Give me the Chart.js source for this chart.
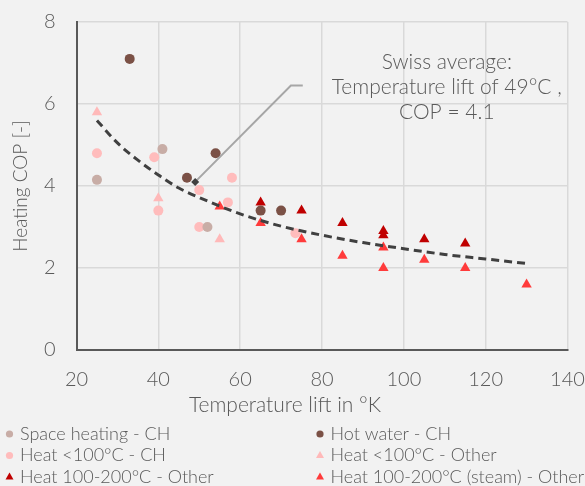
<!DOCTYPE html>
<html>
<head>
<meta charset="utf-8">
<title>Heating COP</title>
<script src="https://cdn.jsdelivr.net/npm/chart.js@4.4.1/dist/chart.umd.min.js"></script>
<style>
    body { margin: 0; background: #f2f2f2; }
    canvas { display: block; }
</style>
</head>
<body>
<canvas id="copChart" width="585" height="486"></canvas>
<script>
// Datos
const xTicks = [20, 40, 60, 80, 100, 120, 140];
const yTicks = [0, 2, 4, 6, 8];

const spaceHeatingX = [25, 41, 52];
const spaceHeatingY = [4.15, 4.9, 3.0];

const hotWaterX = [33, 47, 54, 65, 70];
const hotWaterY = [7.1, 4.2, 4.8, 3.4, 3.4];

const heatLowChX = [25, 39, 40, 50, 50, 57, 58, 73.5];
const heatLowChY = [4.8, 4.7, 3.4, 3.9, 3.0, 3.6, 4.2, 2.85];

const heatLowOtherX = [25, 40, 55];
const heatLowOtherY = [5.8, 3.7, 2.7];

const heatHighOtherX = [65, 75, 85, 95, 95, 105, 115];
const heatHighOtherY = [3.6, 3.4, 3.1, 2.9, 2.8, 2.7, 2.6];

const steamOtherX = [55, 65, 75, 85, 95, 95, 105, 115, 130];
const steamOtherY = [3.5, 3.1, 2.7, 2.3, 2.5, 2.0, 2.2, 2.0, 1.6];

// Línea de tendencia
const trendX = [25, 30, 35, 40, 45, 50, 60, 70, 80, 90, 100, 110, 120, 130];
const trendY = [5.6, 5.05, 4.63, 4.27, 3.95, 3.72, 3.32, 3.02, 2.8, 2.62, 2.47, 2.33, 2.22, 2.11];

// Promedio suizo
const swissX = [49];
const swissY = [4.1];
const swissText = ['Swiss average:', 'Temperature lift of 49°C ,', 'COP = 4.1'];

const textColor = '#595959';
const fontFamily = 'Lato, "Open Sans", sans-serif';

function toPoints(xs, ys) {
    return xs.map((x, i) => ({ x: x, y: ys[i] }));
}

function scatterSet(label, xs, ys, color, style, slot) {
    return {
        label: label,
        data: toPoints(xs, ys),
        backgroundColor: color,
        borderWidth: 0,
        pointStyle: style,
        pointRadius: style === 'triangle' ? 6 : 5,
        legendSlot: slot,
        order: 2
    };
}

// Posición del texto y del conector en unidades de datos
const calloutElbow = { x: 72.4, y: 6.45 };
const calloutEnd = { x: 75.3, y: 6.45 };
const calloutTextX = 110.5;
const calloutTextY = [7.02, 6.41, 5.8];

const datasets = [
    {
        label: 'Trend',
        data: toPoints(trendX, trendY),
        showLine: true,
        borderColor: '#404040',
        borderWidth: 3,
        borderDash: [8, 5],
        cubicInterpolationMode: 'monotone',
        pointRadius: 0,
        order: 0
    },
    {
        label: 'Swiss average',
        data: [{ x: swissX[0], y: swissY[0] }, calloutElbow, calloutEnd],
        showLine: true,
        borderColor: '#a6a6a6',
        borderWidth: 2,
        tension: 0,
        pointRadius: [4, 0, 0],
        pointStyle: 'rect',
        rotation: 45,
        pointBackgroundColor: '#404040',
        pointBorderWidth: 0,
        order: 1
    },
    scatterSet('Space heating - CH', spaceHeatingX, spaceHeatingY, '#c8ada6', 'circle', 0),
    scatterSet('Hot water - CH', hotWaterX, hotWaterY, '#7b5146', 'circle', 1),
    scatterSet('Heat <100°C - CH', heatLowChX, heatLowChY, '#ffbcbc', 'circle', 2),
    scatterSet('Heat <100°C - Other', heatLowOtherX, heatLowOtherY, '#ffb9b9', 'triangle', 3),
    scatterSet('Heat 100-200°C - Other', heatHighOtherX, heatHighOtherY, '#c00000', 'triangle', 4),
    scatterSet('Heat 100-200°C (steam) - Other', steamOtherX, steamOtherY, '#ff3b3b', 'triangle', 5)
];

// Texto de la anotación
const calloutPlugin = {
    id: 'callout',
    afterDatasetsDraw(chart) {
        const ctx = chart.ctx;
        const x = chart.scales.x.getPixelForValue(calloutTextX);
        ctx.save();
        ctx.font = '300 21px ' + fontFamily;
        ctx.fillStyle = textColor;
        ctx.textAlign = 'center';
        ctx.textBaseline = 'middle';
        swissText.forEach((line, i) => {
            ctx.fillText(line, x, chart.scales.y.getPixelForValue(calloutTextY[i]));
        });
        ctx.restore();
    }
};

// Leyenda y título del eje X dibujados a mano
const legendPlugin = {
    id: 'customLegend',
    afterDraw(chart) {
        const ctx = chart.ctx;
        ctx.save();
        ctx.fillStyle = textColor;
        ctx.font = '300 21px ' + fontFamily;
        ctx.textAlign = 'center';
        ctx.textBaseline = 'middle';
        ctx.fillText('Temperature lift in °K', 285, 405);

        ctx.font = '300 18px ' + fontFamily;
        ctx.textAlign = 'left';
        chart.data.datasets.forEach(ds => {
            if (ds.legendSlot === undefined) return;
            const col = ds.legendSlot % 2;
            const row = Math.floor(ds.legendSlot / 2);
            const mx = col ? 320 : 9.5;
            const my = 434 + row * 21.5;
            ctx.fillStyle = ds.backgroundColor;
            ctx.beginPath();
            if (ds.pointStyle === 'triangle') {
                ctx.moveTo(mx, my - 4.5);
                ctx.lineTo(mx + 4, my + 2.5);
                ctx.lineTo(mx - 4, my + 2.5);
                ctx.closePath();
            } else {
                ctx.arc(mx, my, 3.6, 0, Math.PI * 2);
            }
            ctx.fill();
            ctx.fillStyle = textColor;
            ctx.fillText(ds.label, mx + 10.5, my);
        });
        ctx.restore();
    }
};

const tickFont = { family: fontFamily, size: 20, weight: 300 };

new Chart(document.getElementById('copChart'), {
    type: 'scatter',
    data: { datasets: datasets },
    options: {
        responsive: false,
        animation: false,
        layout: { padding: { top: 22, right: 17.5, left: 0, bottom: 0 } },
        plugins: {
            legend: { display: false },
            tooltip: { enabled: false }
        },
        scales: {
            x: {
                type: 'linear',
                min: xTicks[0],
                max: xTicks[xTicks.length - 1],
                ticks: {
                    stepSize: xTicks[1] - xTicks[0],
                    font: tickFont,
                    color: textColor,
                    padding: 0,
                    maxRotation: 0,
                    autoSkip: false
                },
                // marcas invisibles para separar las etiquetas
                grid: { color: '#d9d9d9', lineWidth: 1.5, tickLength: 18, tickColor: 'rgba(0,0,0,0)' },
                border: { color: '#595959', width: 2 },
                afterFit(scale) { scale.height = 136; }
            },
            y: {
                min: yTicks[0],
                max: yTicks[yTicks.length - 1],
                ticks: {
                    stepSize: yTicks[1] - yTicks[0],
                    font: tickFont,
                    color: textColor,
                    padding: 0
                },
                grid: { color: '#d9d9d9', lineWidth: 1.5, tickLength: 21, tickColor: 'rgba(0,0,0,0)' },
                border: { color: '#595959', width: 2 },
                title: {
                    display: true,
                    text: 'Heating COP [-]',
                    font: { family: fontFamily, size: 19, weight: 300 },
                    color: textColor,
                    padding: { top: 9, bottom: 0 }
                },
                afterFit(scale) { scale.width = 76.5; }
            }
        }
    },
    plugins: [calloutPlugin, legendPlugin]
});
</script>
</body>
</html>
